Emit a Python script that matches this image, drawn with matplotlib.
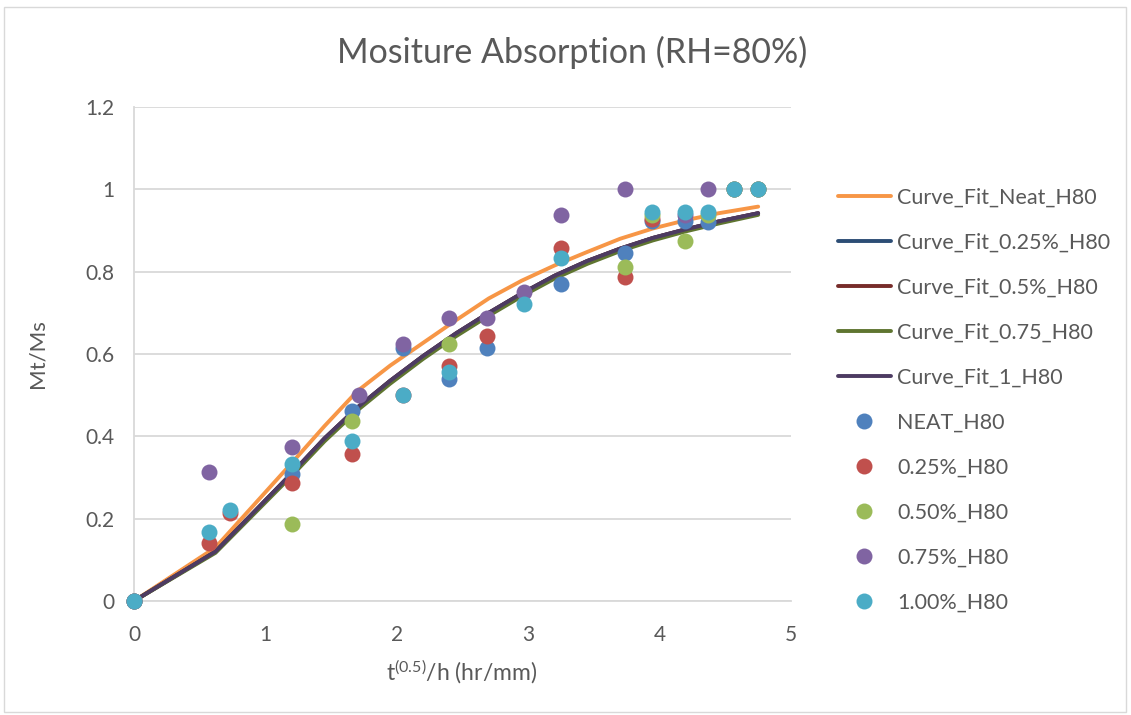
import matplotlib
matplotlib.use("Agg")
import matplotlib.pyplot as plt
from matplotlib.patches import Rectangle

plt.rcParams['font.family'] = ['Lato', 'DejaVu Sans']
plt.rcParams['mathtext.default'] = 'regular'

# ---- fitted curves ----
curve_x = [0, 0.62, 1.2, 1.45, 1.7, 1.95, 2.2, 2.45, 2.7, 2.95, 3.2, 3.45, 3.7, 3.95, 4.2, 4.45, 4.75]
fit_neat = [0, 0.13, 0.335, 0.425, 0.51, 0.572, 0.627, 0.682, 0.735, 0.778, 0.815, 0.848, 0.88, 0.905, 0.925, 0.942, 0.958]
fit_025 = [0, 0.12, 0.31, 0.395, 0.47, 0.535, 0.595, 0.65, 0.70, 0.747, 0.79, 0.826, 0.856, 0.882, 0.903, 0.922, 0.942]
fit_05 = [0, 0.12, 0.31, 0.395, 0.47, 0.535, 0.595, 0.65, 0.70, 0.747, 0.79, 0.826, 0.856, 0.882, 0.903, 0.922, 0.942]
fit_075 = [0, 0.117, 0.304, 0.388, 0.463, 0.528, 0.588, 0.643, 0.693, 0.740, 0.783, 0.819, 0.850, 0.876, 0.898, 0.917, 0.938]
fit_1 = [0, 0.12, 0.31, 0.395, 0.47, 0.535, 0.595, 0.65, 0.70, 0.747, 0.79, 0.826, 0.856, 0.882, 0.903, 0.922, 0.942]

# ---- measured points ----
neat_x = [0, 1.2, 1.66, 2.05, 2.4, 2.69, 3.25, 3.74, 3.94, 4.19, 4.37, 4.57, 4.75]
neat_y = [0, 0.308, 0.461, 0.615, 0.539, 0.615, 0.769, 0.846, 0.923, 0.923, 0.92, 1.0, 1.0]

p025_x = [0, 0.57, 0.73, 1.2, 1.66, 2.05, 2.4, 2.69, 3.25, 3.74, 3.94, 4.57, 4.75]
p025_y = [0, 0.141, 0.214, 0.286, 0.357, 0.5, 0.571, 0.643, 0.857, 0.786, 0.929, 1.0, 1.0]

p050_x = [0, 1.2, 1.66, 2.4, 3.74, 3.94, 4.19, 4.37, 4.57, 4.75]
p050_y = [0, 0.1875, 0.4375, 0.625, 0.8125, 0.9375, 0.875, 0.9375, 1.0, 1.0]

p075_x = [0, 0.57, 1.2, 1.71, 2.05, 2.4, 2.69, 2.97, 3.25, 3.74, 4.19, 4.37]
p075_y = [0, 0.3125, 0.375, 0.5, 0.625, 0.6875, 0.6875, 0.75, 0.9375, 1.0, 0.9375, 1.0]

p100_x = [0, 0.57, 0.73, 1.2, 1.66, 2.05, 2.4, 2.97, 3.25, 3.94, 4.19, 4.37, 4.57, 4.75]
p100_y = [0, 0.167, 0.222, 0.333, 0.389, 0.5, 0.556, 0.722, 0.833, 0.944, 0.944, 0.944, 1.0, 1.0]

curve_labels = ["Curve_Fit_Neat_H80", "Curve_Fit_0.25%_H80", "Curve_Fit_0.5%_H80",
                "Curve_Fit_0.75_H80", "Curve_Fit_1_H80"]
point_labels = ["NEAT_H80", "0.25%_H80", "0.50%_H80", "0.75%_H80", "1.00%_H80"]
x_ticks = [0, 1, 2, 3, 4, 5]
y_ticks = [0, 0.2, 0.4, 0.6, 0.8, 1.0, 1.2]
y_ticklabels = ["0", "0.2", "0.4", "0.6", "0.8", "1", "1.2"]

curve_colors = ["#F79646", "#2C4D75", "#772C2A", "#5F7530", "#4D3B62"]
point_colors = ["#4F81BD", "#C0504D", "#9BBB59", "#8064A2", "#4BACC6"]
text_color = "#595959"

W, H = 1131, 715
fig = plt.figure(figsize=(W / 100, H / 100), dpi=100)
fig.patches.append(Rectangle((4 / W, 3 / H), (W - 9) / W, (H - 10) / H, transform=fig.transFigure,
                             fill=False, edgecolor="#D9D9D9", lw=1.0))

ax = fig.add_axes([134 / W, 1 - 601 / H, (791 - 134) / W, (601 - 107) / H])
ax.set_xlim(0, 5)
ax.set_ylim(0, 1.2)

fits = [fit_neat, fit_025, fit_05, fit_075, fit_1]
handles = []
for ys, c, lab in zip(fits, curve_colors, curve_labels):
    h, = ax.plot(curve_x, ys, color=c, lw=2.8, label=lab, zorder=3, solid_capstyle='round')
    handles.append(h)

pts = [(neat_x, neat_y), (p025_x, p025_y), (p050_x, p050_y), (p075_x, p075_y), (p100_x, p100_y)]
for (xs, ys), c, lab in zip(pts, point_colors, point_labels):
    h, = ax.plot(xs, ys, 'o', color=c, ms=11.5, mec=c, mew=0, label=lab, zorder=4, clip_on=False)
    handles.append(h)

ax.set_xticks(x_ticks)
ax.set_yticks(y_ticks)
ax.set_yticklabels(y_ticklabels)
ax.tick_params(length=0, labelsize=15, colors=text_color)
ax.tick_params(axis='x', pad=17)
ax.tick_params(axis='y', pad=14)
ax.grid(axis='y', color="#D9D9D9", lw=1.3)
ax.set_axisbelow(True)
for s in ['top', 'right']:
    ax.spines[s].set_visible(False)
ax.spines['left'].set_color("#D9D9D9")
ax.spines['bottom'].set_color("#D9D9D9")
ax.spines['left'].set_linewidth(1.3)
ax.spines['bottom'].set_linewidth(1.3)

fig.text(572 / W, 1 - 52 / H, "Mositure Absorption (RH=80%)", ha='center', va='center',
         fontsize=24.5, color=text_color)
fig.text(462 / W, 1 - 672 / H, r"t$^{(0.5)}$/h (hr/mm)", ha='center', va='center',
         fontsize=16.5, color=text_color)
fig.text(38 / W, 1 - 354 / H, "Mt/Ms", ha='center', va='center', rotation=90,
         fontsize=16, color=text_color)

leg = fig.legend(handles=handles, loc='upper left', bbox_to_anchor=(838 / W, 1 - 188 / H),
                 frameon=False, fontsize=15.5, labelcolor=text_color, handlelength=2.45,
                 handletextpad=0.3, labelspacing=1.16, borderaxespad=0, borderpad=0)

fig.savefig("out.png", dpi=100)
